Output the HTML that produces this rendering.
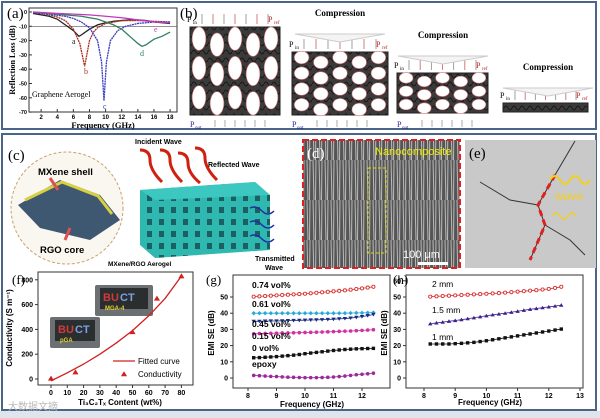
<!DOCTYPE html>
<html><head><meta charset="utf-8"><style>
body{margin:0;background:#fff;}
svg{display:block;font-family:"Liberation Sans",sans-serif;}
.ser{font-family:"Liberation Serif",serif;}
</style></head><body>
<svg id="fig" width="600" height="418" viewBox="0 0 600 418">
<defs>
<pattern id="sem" width="6" height="40" patternUnits="userSpaceOnUse"><rect width="6" height="40" fill="#555"/><path d="M1 0 L2 40 M4 0 L3.5 40" stroke="#bbb" stroke-width="1"/></pattern>
<pattern id="teal" width="12" height="12" patternUnits="userSpaceOnUse"><rect width="12" height="12" fill="#2fb8b0"/><rect x="3" y="3" width="5" height="6" fill="#1c5f63"/></pattern>
<pattern id="mesh" width="8" height="8" patternUnits="userSpaceOnUse"><rect width="8" height="8" fill="#3a3a3a"/><path d="M0 4 Q2 0 4 4 T8 4" stroke="#111" fill="none" stroke-width=".8"/></pattern>
</defs>
<!-- frames -->
<rect x="2" y="2" width="594" height="127" fill="#fff" stroke="#4a6585" stroke-width="2"/>
<rect x="2" y="134" width="594" height="276" fill="#fff" stroke="#4a6585" stroke-width="2"/>
<rect x="0" y="411" width="600" height="7" fill="#dfe5ec"/>

<g id="pa"></g>
<g id="pb"></g>

<!-- panel c -->
<g>
<text x="8" y="160" font-size="15" class="ser">(c)</text>
<circle cx="67" cy="208" r="56" fill="#faf6f0" stroke="#c9a070" stroke-dasharray="3,2"/>
<path d="M18 205 L60 180 L100 195 L120 220 L90 240 L40 228 Z" fill="#1d3c5a" opacity=".85"/>
<path d="M25 200 L62 182 L98 196 L112 214" stroke="#d8d040" stroke-width="3" fill="none"/>
<text x="38" y="175" font-size="9.5" font-weight="bold">MXene shell</text>
<text x="40" y="253" font-size="9.5" font-weight="bold">RGO core</text>
<path d="M58 190 L50 178" stroke="#e05050" stroke-width="3"/><path d="M70 228 L65 240" stroke="#e05050" stroke-width="3"/>
<path d="M140 190 L255 182 L270 195 L270 250 L155 258 L140 245 Z" fill="url(#teal)"/>
<path d="M140 190 L255 182 L270 195 L155 200 Z" fill="#3cc8c0"/>
<text x="135" y="144" font-size="7" font-weight="bold">Incident Wave</text>
<text x="208" y="167" font-size="7" font-weight="bold">Reflected Wave</text>
<text x="108" y="266" font-size="6.5" font-weight="bold">MXene/RGO Aerogel</text>
<text x="255" y="261" font-size="7" font-weight="bold">Transmitted</text>
<text x="265" y="270" font-size="7" font-weight="bold">Wave</text>
<g stroke="#d02010" stroke-width="3" fill="none"><path d="M140 150 q10 0 10 10 t12 22"/><path d="M160 150 q10 0 10 10 t12 22"/><path d="M178 153 q10 0 10 10 t12 20"/><path d="M195 148 q10 0 10 10 t12 22"/></g>
<g stroke="#2030a0" stroke-width="1.5" fill="none"><path d="M250 222 q6 -3 12 3 t12 0"/><path d="M250 236 q6 -3 12 3 t12 0"/><path d="M250 208 q6 -3 12 3 t12 0"/></g>
</g>

<!-- panel d -->
<g>
<rect x="303" y="140" width="157" height="128" fill="url(#sem)" stroke="#e02020" stroke-width="2" stroke-dasharray="6,3"/>
<text x="307" y="158" font-size="15" class="ser" fill="#fff">(d)</text>
<text x="375" y="155" font-size="11" fill="#f0f000">Nanocomposite</text>
<rect x="368" y="168" width="18" height="85" fill="none" stroke="#e0e000" stroke-dasharray="3,2"/>
<text x="403" y="258" font-size="11" fill="#fff">100 μm</text>
<rect x="418" y="262" width="30" height="3" fill="#fff"/>
</g>
<!-- panel e -->
<g>
<rect x="465" y="140" width="131" height="128" fill="#c9c9c9"/>
<text x="469" y="158" font-size="15" class="ser">(e)</text>
<path d="M575 141 L555 175 L538 205 L545 225 L530 260 M538 205 L510 200 L480 182 M545 225 L570 240 L585 255" stroke="#333" fill="none"/>
<path d="M555 175 L538 205 L545 225 L530 260" stroke="#e02020" stroke-width="3" stroke-dasharray="6,4" fill="none"/>
<path d="M550 180 q5 -8 10 0 t10 0 t10 0 t10 0" stroke="#f0d020" stroke-width="2" fill="none"/>
<text x="555" y="200" font-size="12" fill="#f0d020">wave</text>
<path d="M552 216 q4 -6 8 0 t8 0 t8 0" stroke="#f0d020" stroke-width="1.5" fill="none"/>
</g>

<g id="pf"></g>
<g id="pg"></g>
<g id="ph"></g>
<text x="8" y="410" font-size="10" fill="#bbb" font-family="'Liberation Sans','Noto Sans CJK SC',sans-serif">大数据文摘</text>
</svg>
<script>
// ---------- panel (a) data ----------
const aFreqA=[1,2,3,4,5,6,6.7,7,8,9,10,11,12,13,14,15,16,17,18];
const aLossA=[-1,-2,-3,-5,-9,-13,-17,-16,-12,-9,-7.5,-6.5,-6,-5.5,-5.5,-6,-7,-7.5,-8];
const aFreqB=[1,2,3,4,5,6,6.8,7.4,8,8.5,9,10,11,12,14,16,18];
const aLossB=[-0.5,-1,-2,-3.5,-6,-12,-22,-38,-20,-14,-11,-8,-7,-6,-6,-6.5,-7];
const aFreqC=[1,3,5,6,7,8,9,9.5,9.8,10.1,10.6,11.5,12.5,14,16,18];
const aLossC=[-0.5,-1.5,-3,-4.5,-7,-11,-20,-35,-62,-35,-20,-13,-10,-8,-7,-7];
const aFreqD=[1,3,5,7,8,9,10,11,12,13,14,14.5,15,16,17,18];
const aLossD=[0,-1,-2,-3,-4,-5,-7,-9,-12,-17,-22,-24,-23,-19,-17,-14];
const aFreqE=[1,4,6,8,10,12,14,16,18];
const aLossE=[0,-1,-1.5,-2,-3,-4,-5.5,-7,-7.5];
const aXTicks=[2,4,6,8,10,12,14,16,18];
const aYTicks=[0,-10,-20,-30,-40,-50,-60,-70];
// ---------- panel (f) data ----------
const fContent=[0,15,50,65,80];
const fCond=[5,55,380,650,830];
const fFitContent=[0,10,20,30,40,50,60,70,80];
const fFitCond=[-15,50,120,200,290,390,510,650,830];
const fXTicks=[0,10,20,30,40,50,60,70,80];
const fYTicks=[0,200,400,600,800];
// ---------- panel (g) data ----------
const gFreq=[8.2,8.4,8.6,8.8,9,9.2,9.4,9.6,9.8,10,10.2,10.4,10.6,10.8,11,11.2,11.4,11.6,11.8,12,12.2,12.4];
const g074=[50.2,50.4,50.6,50.8,51,51.2,51.4,51.6,51.8,52,52.3,52.6,52.9,53.2,53.5,53.8,54.1,54.5,54.9,55.3,55.8,56.3];
const g061=[40,40,40,40,40,40,40,40,40,40,40,40,40,40,40,40,40,40.1,40.2,40.2,40.3,40.4];
const g045=[35,35,35.1,35.2,35.2,35.3,35.4,35.5,35.6,35.7,35.8,35.9,36,36.1,36.3,36.5,36.7,37,37.4,37.9,38.5,39.2];
const g015=[27.3,27.4,27.5,27.6,27.7,27.8,27.8,27.9,28,28.1,28.2,28.3,28.4,28.5,28.6,28.8,28.9,29,29.2,29.4,29.6,29.8];
const g0=[12.5,12.6,12.8,13,13.2,13.5,13.8,14.1,14.5,15,15.4,15.8,16.2,16.6,17,17.3,17.6,17.8,18,18.1,18.2,18.3];
const gEpoxy=[1.6,1.4,1.2,1,0.9,0.7,0.5,0.4,0.3,0.2,0.2,0.2,0.3,0.4,0.6,0.9,1.2,1.6,2,2.3,2.6,3];
const gXTicks=[8,9,10,11,12];
const gYTicks=[0,10,20,30,40,50];
// ---------- panel (h) data ----------
const hFreq=[8.2,8.4,8.6,8.8,9,9.2,9.4,9.6,9.8,10,10.2,10.4,10.6,10.8,11,11.2,11.4,11.6,11.8,12,12.2,12.4];
const h2mm=[50.2,50.4,50.6,50.8,51,51.2,51.4,51.6,51.8,52,52.2,52.4,52.7,53,53.3,53.6,53.9,54.2,54.6,55,55.6,56.3];
const h15mm=[33.5,34,34.5,35,35.5,36,36.6,37.2,37.8,38.4,39,39.5,40,40.6,41.2,41.8,42.4,42.9,43.4,43.9,44.4,45];
const h1mm=[21,21,21,21,21.2,21.4,21.7,22,22.5,23,23.6,24.2,24.8,25.4,26,26.6,27.2,27.8,28.4,29,29.6,30.2];
const hXTicks=[8,9,10,11,12,13];
const hYTicks=[0,10,20,30,40,50,60];

const NS='http://www.w3.org/2000/svg';
function mk(parent,tag,attrs,txt){const e=document.createElementNS(NS,tag);for(const k in attrs)e.setAttribute(k,attrs[k]);if(txt!==undefined)e.textContent=txt;parent.appendChild(e);return e;}

// ===== panel a =====
(function(){
const g=document.getElementById('pa');
const X=f=>25+8.06*f, Y=d=>12-1.43*d;
const fr=mk(g,'rect',{x:29,y:8,width:148,height:104,fill:'#fff',stroke:'#333'});


mk(g,'line',{x1:29,x2:177,y1:Y(-10),y2:Y(-10),stroke:'#555','stroke-width':0.6});
aXTicks.forEach(t=>{mk(g,'line',{x1:X(t),x2:X(t),y1:112,y2:109,stroke:'#333'});
 const l=mk(g,'text',{x:X(t),y:119,'font-size':6,'text-anchor':'middle','font-weight':'bold'},t);
 
 });
aYTicks.forEach(t=>{mk(g,'line',{x1:29,x2:32,y1:Y(t),y2:Y(t),stroke:'#333'});
 const l=mk(g,'text',{x:27,y:Y(t)+2,'font-size':5.5,'text-anchor':'end','font-weight':'bold'},t);
 
 });
const series=[[aFreqA,aLossA,'#222','a'],[aFreqB,aLossB,'#a83020','b'],[aFreqC,aLossC,'#3c3cc0','c'],[aFreqD,aLossD,'#2f7f60','d'],[aFreqE,aLossE,'#c038c0','e']];
series.forEach(s=>{const p=mk(g,'path',{d:s[0].map((f,i)=>(i?'L':'M')+X(f)+' '+Y(s[1][i])).join(''),fill:'none',stroke:s[2],'stroke-width':1.3,'stroke-dasharray':s[3]==='b'||s[3]==='c'?'2,0.6':'none'});
 
 });
[['a',72,44,'#222'],['b',84,74,'#a83020'],['c',103,109,'#3c3cc0'],['d',140,56,'#2f7f60'],['e',154,32,'#c038c0']].forEach(l=>{const t=mk(g,'text',{x:l[1],y:l[2],'font-size':8,fill:l[3],class:'ser'},l[0]);
 
 });
let t=mk(g,'text',{x:32,y:97,'font-size':8,class:'ser'},'Graphene Aerogel');


t=mk(g,'text',{x:103,y:128,'font-size':8.5,'font-weight':'bold','text-anchor':'middle',class:'ser'},'Frequency (GHz)');


t=mk(g,'text',{x:15,y:60,'font-size':8,'font-weight':'bold','text-anchor':'middle',class:'ser',transform:'rotate(-90 15 60)'},'Reflection Loss (dB)');


t=mk(g,'text',{x:7,y:18,'font-size':15,class:'ser'},'(a)');


})();

// ===== panel b =====
(function(){
const g=document.getElementById('pb');
let t=mk(g,'text',{x:180,y:18,'font-size':15,class:'ser'},'(b)');


const boxes=[[190,27,90,88,3,5,1.0],[292,52,96,63,4,5,0.8],[397,73,91,40,3,5,0.6],[503,103,85,9,0,0,0]];
boxes.forEach((b,i)=>{
 const r=mk(g,'rect',{x:b[0],y:b[1],width:b[2],height:b[3],fill:'url(#mesh)',stroke:'#222'});
 
 
 const rows=b[4],cols=b[5];
 for(let rr=0;rr<rows;rr++)for(let c=0;c<cols;c++){
  const cx=b[0]+b[2]*(c+0.5)/cols, cy=b[1]+b[3]*(rr+0.5)/rows+((c%2)?3:-3)*b[6];
  mk(g,'ellipse',{cx:cx,cy:cy,rx:b[2]/cols*0.38,ry:b[3]/rows*0.4,fill:'#fff',stroke:'#d07070','stroke-width':0.6});
 }
 // waves on top
 const wy=b[1]-3;
 for(let k=0;k<7;k++){mk(g,'line',{x1:b[0]+12+k*(b[2]-24)/6,x2:b[0]+12+k*(b[2]-24)/6,y1:wy-10,y2:wy,stroke:k%2?'#c06060':'#888','stroke-width':0.8});}
 t=mk(g,'text',{x:b[0]-3,y:wy-2,'font-size':8,class:'ser'},'P');
 
 
 mk(g,'text',{x:b[0]+3,y:wy,'font-size':5,class:'ser'},'in');
 t=mk(g,'text',{x:b[0]+b[2]-12,y:wy-2,'font-size':8,fill:'#c02020',class:'ser'},'P');
 
 
 mk(g,'text',{x:b[0]+b[2]-6,y:wy,'font-size':5,fill:'#c02020',class:'ser'},'ref');
 if(i<3){t=mk(g,'text',{x:b[0],y:127,'font-size':8,fill:'#2020a0',class:'ser'},'P');
  
  
  mk(g,'text',{x:b[0]+5,y:129,'font-size':5,fill:'#2020a0',class:'ser'},'out');
  for(let k=0;k<6;k++)mk(g,'line',{x1:b[0]+25+k*10,x2:b[0]+25+k*10,y1:120,y2:127,stroke:'#888','stroke-width':0.7});}
});
[[340,16],[443,38],[548,70]].forEach(p=>{t=mk(g,'text',{x:p[0],y:p[1],'font-size':9,'font-weight':'bold','text-anchor':'middle',class:'ser'},'Compression');
 
 
 mk(g,'path',{d:`M${p[0]-45} ${p[1]+18} L${p[0]+45} ${p[1]+18} L${p[0]} ${p[1]+26} Z`,fill:'#f4f4f4',stroke:'#ccc'});});
})();

// generic axes helper
function axes(g,prefix,L,R,T,B,X,Y,xt,yt){
 const fr=mk(g,'rect',{x:L,y:T,width:R-L,height:B-T,fill:'#fff',stroke:'#333'});
 
 
 xt.forEach(v=>{mk(g,'line',{x1:X(v),x2:X(v),y1:B,y2:B+3,stroke:'#333'});
  const l=mk(g,'text',{x:X(v),y:B+10,'font-size':7,'text-anchor':'middle','font-weight':'bold'},v);
  
  });
 yt.forEach(v=>{mk(g,'line',{x1:L-3,x2:L,y1:Y(v),y2:Y(v),stroke:'#333'});
  const l=mk(g,'text',{x:L-5,y:Y(v)+2.5,'font-size':7,'text-anchor':'end','font-weight':'bold'},v);
  
  });
}
function marker(g,type,x,y,c){
 if(type==='circle')return mk(g,'circle',{cx:x,cy:y,r:1.6,fill:'#fff',stroke:c,'stroke-width':0.9});
 if(type==='square')return mk(g,'rect',{x:x-1.7,y:y-1.7,width:3.4,height:3.4,fill:c});
 if(type==='diamond')return mk(g,'path',{d:`M${x} ${y-2.2}L${x+2.2} ${y}L${x} ${y+2.2}L${x-2.2} ${y}Z`,fill:c});
 if(type==='tdown')return mk(g,'path',{d:`M${x-2.2} ${y-1.6}L${x+2.2} ${y-1.6}L${x} ${y+2}Z`,fill:c});
 if(type==='tup')return mk(g,'path',{d:`M${x-2.2} ${y+1.6}L${x+2.2} ${y+1.6}L${x} ${y-2}Z`,fill:c});
 return mk(g,'circle',{cx:x,cy:y,r:1.8,fill:c});
}

// ===== panel f =====
(function(){
const g=document.getElementById('pf');
const X=c=>51+1.63*c, Y=s=>379-0.124*s;
axes(g,'f',38,193,272,385,X,Y,fXTicks,fYTicks);
// inset photos
[[95,285,58,31,'MGA-4'],[50,317,50,31,'pGA']].forEach(p=>{
 const r=mk(g,'rect',{x:p[0],y:p[1],width:p[2],height:p[3],fill:'#6d7073',rx:2});
 
 
 mk(g,'rect',{x:p[0]+5,y:p[1]+3,width:p[2]-10,height:p[3]-10,fill:'#2a2e2e'});
 mk(g,'text',{x:p[0]+8,y:p[1]+16,'font-size':11,'font-weight':'bold',fill:'#d03a3a'},'BU');
 mk(g,'text',{x:p[0]+25,y:p[1]+16,'font-size':11,'font-weight':'bold',fill:'#7aa0e8'},'CT');
 const l=mk(g,'text',{x:p[0]+10,y:p[1]+25,'font-size':6,'font-weight':'bold',fill:'#e8d030'},p[4]);
 
 
});
const fit=mk(g,'path',{d:fFitContent.map((c,i)=>(i?'L':'M')+X(c)+' '+Y(fFitCond[i])).join(''),fill:'none',stroke:'#d02020','stroke-width':1.3});


fContent.forEach((c,i)=>{const m=marker(g,'tup',X(c),Y(fCond[i]),'#d02020');m.setAttribute('transform',`translate(${X(c)} ${Y(fCond[i])}) scale(1.4) translate(${-X(c)} ${-Y(fCond[i])})`);
 
 });
mk(g,'line',{x1:113,x2:135,y1:361,y2:361,stroke:'#d02020','stroke-width':1.3});
let t=mk(g,'text',{x:138,y:364,'font-size':8},'Fitted curve');


const m=marker(g,'tup',124,374,'#d02020');m.setAttribute('transform','translate(124 374) scale(1.4) translate(-124 -374)');
t=mk(g,'text',{x:138,y:377,'font-size':8},'Conductivity');


t=mk(g,'text',{x:12,y:328,'font-size':8,'font-weight':'bold','text-anchor':'middle',transform:'rotate(-90 12 328)'},'Conductivity (S m⁻¹)');


t=mk(g,'text',{x:120,y:405,'font-size':8,'font-weight':'bold','text-anchor':'middle'},'Ti₃C₂Tₓ Content (wt%)');


t=mk(g,'text',{x:12,y:284,'font-size':13,class:'ser'},'(f)');


})();

// ===== panel g =====
(function(){
const g=document.getElementById('pg');
const X=f=>248+28.5*(f-8), Y=v=>378-1.62*v;
axes(g,'g',233,390,275,388,X,Y,gXTicks,gYTicks);
const S=[[g074,'circle','#d83030','0.74 vol%'],[g061,'diamond','#28a8d8','0.61 vol%'],[g045,'tdown','#1a2a80','0.45 vol%'],[g015,'star','#d030a0','0.15 vol%'],[g0,'square','#111','0 vol%'],[gEpoxy,'star','#9a2a9a','epoxy']];
S.forEach(s=>{mk(g,'path',{d:gFreq.map((f,i)=>(i?'L':'M')+X(f)+' '+Y(s[0][i])).join(''),fill:'none',stroke:s[2],'stroke-width':0.8});
 gFreq.forEach((f,i)=>{const m=marker(g,s[1],X(f),Y(s[0][i]),s[2]);
  
  });});
[['0.74 vol%',288],['0.61 vol%',307],['0.45 vol%',327],['0.15 vol%',339],['0 vol%',351],['epoxy',367]].forEach(l=>{const t=mk(g,'text',{x:252,y:l[1],'font-size':8.5,'font-weight':'bold'},l[0]);
 
 });
let t=mk(g,'text',{x:312,y:407,'font-size':8,'font-weight':'bold','text-anchor':'middle'},'Frequency (GHz)');


t=mk(g,'text',{x:214,y:333,'font-size':8,'font-weight':'bold','text-anchor':'middle',transform:'rotate(-90 214 333)'},'EMI SE (dB)');


t=mk(g,'text',{x:206,y:284,'font-size':13,class:'ser'},'(g)');


})();

// ===== panel h =====
(function(){
const g=document.getElementById('ph');
const X=f=>424+31.2*(f-8), Y=v=>378-1.62*v;
axes(g,'h',406,583,275,388,X,Y,hXTicks,hYTicks);
const S=[[h2mm,'circle','#d83030'],[h15mm,'tup','#40208a'],[h1mm,'square','#111']];
S.forEach(s=>{mk(g,'path',{d:hFreq.map((f,i)=>(i?'L':'M')+X(f)+' '+Y(s[0][i])).join(''),fill:'none',stroke:s[2],'stroke-width':0.8});
 hFreq.forEach((f,i)=>{const m=marker(g,s[1],X(f),Y(s[0][i]),s[2]);
  
  });});
[['2 mm',287],['1.5 mm',313],['1 mm',340]].forEach(l=>{const t=mk(g,'text',{x:432,y:l[1],'font-size':8.5},l[0]);
 
 });
let t=mk(g,'text',{x:490,y:405,'font-size':8,'font-weight':'bold','text-anchor':'middle'},'Frequency (GHz)');


t=mk(g,'text',{x:387,y:333,'font-size':8,'font-weight':'bold','text-anchor':'middle',transform:'rotate(-90 387 333)'},'EMI SE (dB)');


t=mk(g,'text',{x:393,y:284,'font-size':13,class:'ser'},'(h)');


})();
</script>
</body></html>
